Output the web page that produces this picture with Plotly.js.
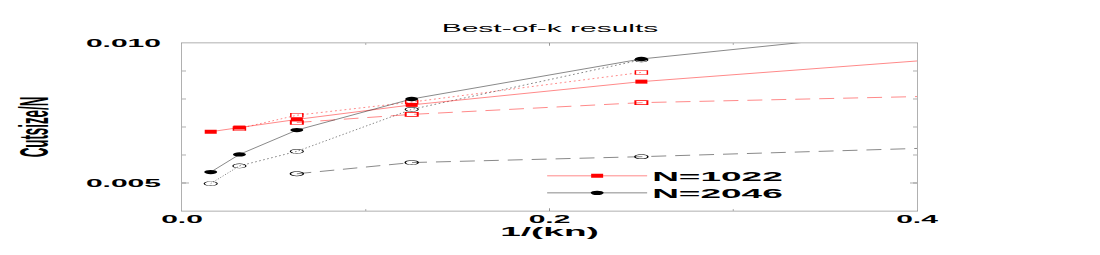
<!DOCTYPE html>
<html>
<head>
<meta charset="utf-8">
<script src="https://cdn.plot.ly/plotly-3.0.1.min.js"></script>
<style>
html, body { margin: 0; padding: 0; overflow: hidden; background: #fff; width: 1100px; height: 255px; }
#chart { width: 1100px; height: 765px; transform: scale(1, 0.333333); transform-origin: 0 0; }
</style>
</head>
<body>
<div id="chart"></div>
<script>
// x = 1/(kn)
const xAll = [1/64, 1/32, 1/16, 1/8, 1/4, 1/2];
const xFrom32 = [1/32, 1/16, 1/8, 1/4];
const xFrom16 = [1/16, 1/8, 1/4, 1/2];
const xDot2046 = [1/64, 1/32, 1/16, 1/8, 1/4];

// N=1022 (red)
const red1022Solid = [0.00683, 0.00698, 0.00727, 0.00779, 0.00862, 0.00985];
const red1022Dot = [0.00695, 0.00742, 0.00789, 0.00895];
const red1022Dash = [0.00716, 0.00745, 0.00787, 0.00823];

// N=2046 (black)
const blk2046Solid = [0.00539, 0.00602, 0.00689, 0.00800, 0.00943, 0.01112];
const blk2046Dot = [0.00498, 0.00561, 0.00613, 0.00763, 0.00940];
const blk2046Dash = [0.00533, 0.00573, 0.00594, 0.00643];

const seriesNames = ['N=1022', 'N=2046'];
const titleText = 'Best-of-k results';
const xTitle = '1/(kn)';
const yTitle = 'Cutsize/N';
const xTickVals = [0, 0.2, 0.4];
const xTickText = ['0.0', '0.2', '0.4'];
const yTickVals = [0.005, 0.010];
const yTickText = ['0.005', '0.010'];

const FONT = '"Liberation Sans", Arial, Helvetica, sans-serif';
const LW = 0.7;

const traces = [
  { x: xFrom16, y: red1022Dash, mode: 'lines+markers', showlegend: false,
    line: { color: 'red', width: LW, dash: '15px,9px' },
    marker: { symbol: 'square-open', size: 12, color: 'red', line: { color: 'red', width: 2 } } },
  { x: xFrom32, y: red1022Dot, mode: 'lines+markers', showlegend: false,
    line: { color: 'red', width: LW, dash: '2px,3px' },
    marker: { symbol: 'square-open', size: 12, color: 'red', line: { color: 'red', width: 1.5 } } },
  { x: xFrom16, y: blk2046Dash, mode: 'lines+markers', showlegend: false,
    line: { color: 'black', width: LW, dash: '15px,9px' },
    marker: { symbol: 'circle-open', size: 13, color: 'black', line: { color: 'black', width: 1.5 } } },
  { x: xDot2046, y: blk2046Dot, mode: 'lines+markers', showlegend: false,
    line: { color: 'black', width: LW, dash: '2px,3px' },
    marker: { symbol: 'circle-open', size: 13, color: 'black', line: { color: 'black', width: 1.2 } } },
  { x: xAll, y: red1022Solid, mode: 'lines+markers', name: seriesNames[0],
    line: { color: 'red', width: LW },
    marker: { symbol: 'square', size: 12, color: 'red' } },
  { x: xAll, y: blk2046Solid, mode: 'lines+markers', name: seriesNames[1],
    line: { color: 'black', width: LW },
    marker: { symbol: 'circle', size: 13, color: 'black' } }
];

const axisCommon = {
  showline: true, linecolor: '#888', linewidth: 1, mirror: 'ticks',
  ticks: 'inside', tickcolor: '#888', showgrid: false, zeroline: false,
  tickfont: { family: FONT, size: 30, weight: 'bold', color: '#000' }
};

const layout = {
  width: 1100, height: 765, autosize: false,
  margin: { l: 182, r: 183, t: 129, b: 132 },
  paper_bgcolor: '#fff', plot_bgcolor: '#fff',
  title: { text: titleText, x: 0.5, xanchor: 'center', y: 0.89, yanchor: 'middle',
           font: { family: FONT, size: 30, color: '#000' } },
  xaxis: Object.assign({}, axisCommon, {
    range: [0, 0.4], tickmode: 'array', tickvals: xTickVals, ticktext: xTickText,
    ticklen: 9, minor: { dtick: 0.1, ticks: 'inside', ticklen: 6, tickcolor: '#888' },
    title: { text: xTitle, standoff: 0, font: { family: FONT, size: 37, weight: 'bold', color: '#000' } }
  }),
  yaxis: Object.assign({}, axisCommon, {
    range: [0.004, 0.010], tickmode: 'array', tickvals: yTickVals, ticktext: yTickText,
    ticklen: 7, ticklabelstandoff: 14,
    minor: { dtick: 0.001, tick0: 0, ticks: 'inside', ticklen: 4, tickcolor: '#888' },
    title: { text: yTitle, standoff: 24, font: { family: FONT, size: 40, weight: 'bold', color: '#000' } }
  }),
  showlegend: true,
  legend: { x: 0.49, xanchor: 'left', y: 0.27, yanchor: 'top', itemwidth: 100,
            bgcolor: 'rgba(0,0,0,0)', borderwidth: 0, traceorder: 'normal',
            font: { family: FONT, size: 37, weight: 'bold', color: '#000' } }
};

Plotly.newPlot('chart', traces, layout, { staticPlot: true, displayModeBar: false });
</script>
</body>
</html>
